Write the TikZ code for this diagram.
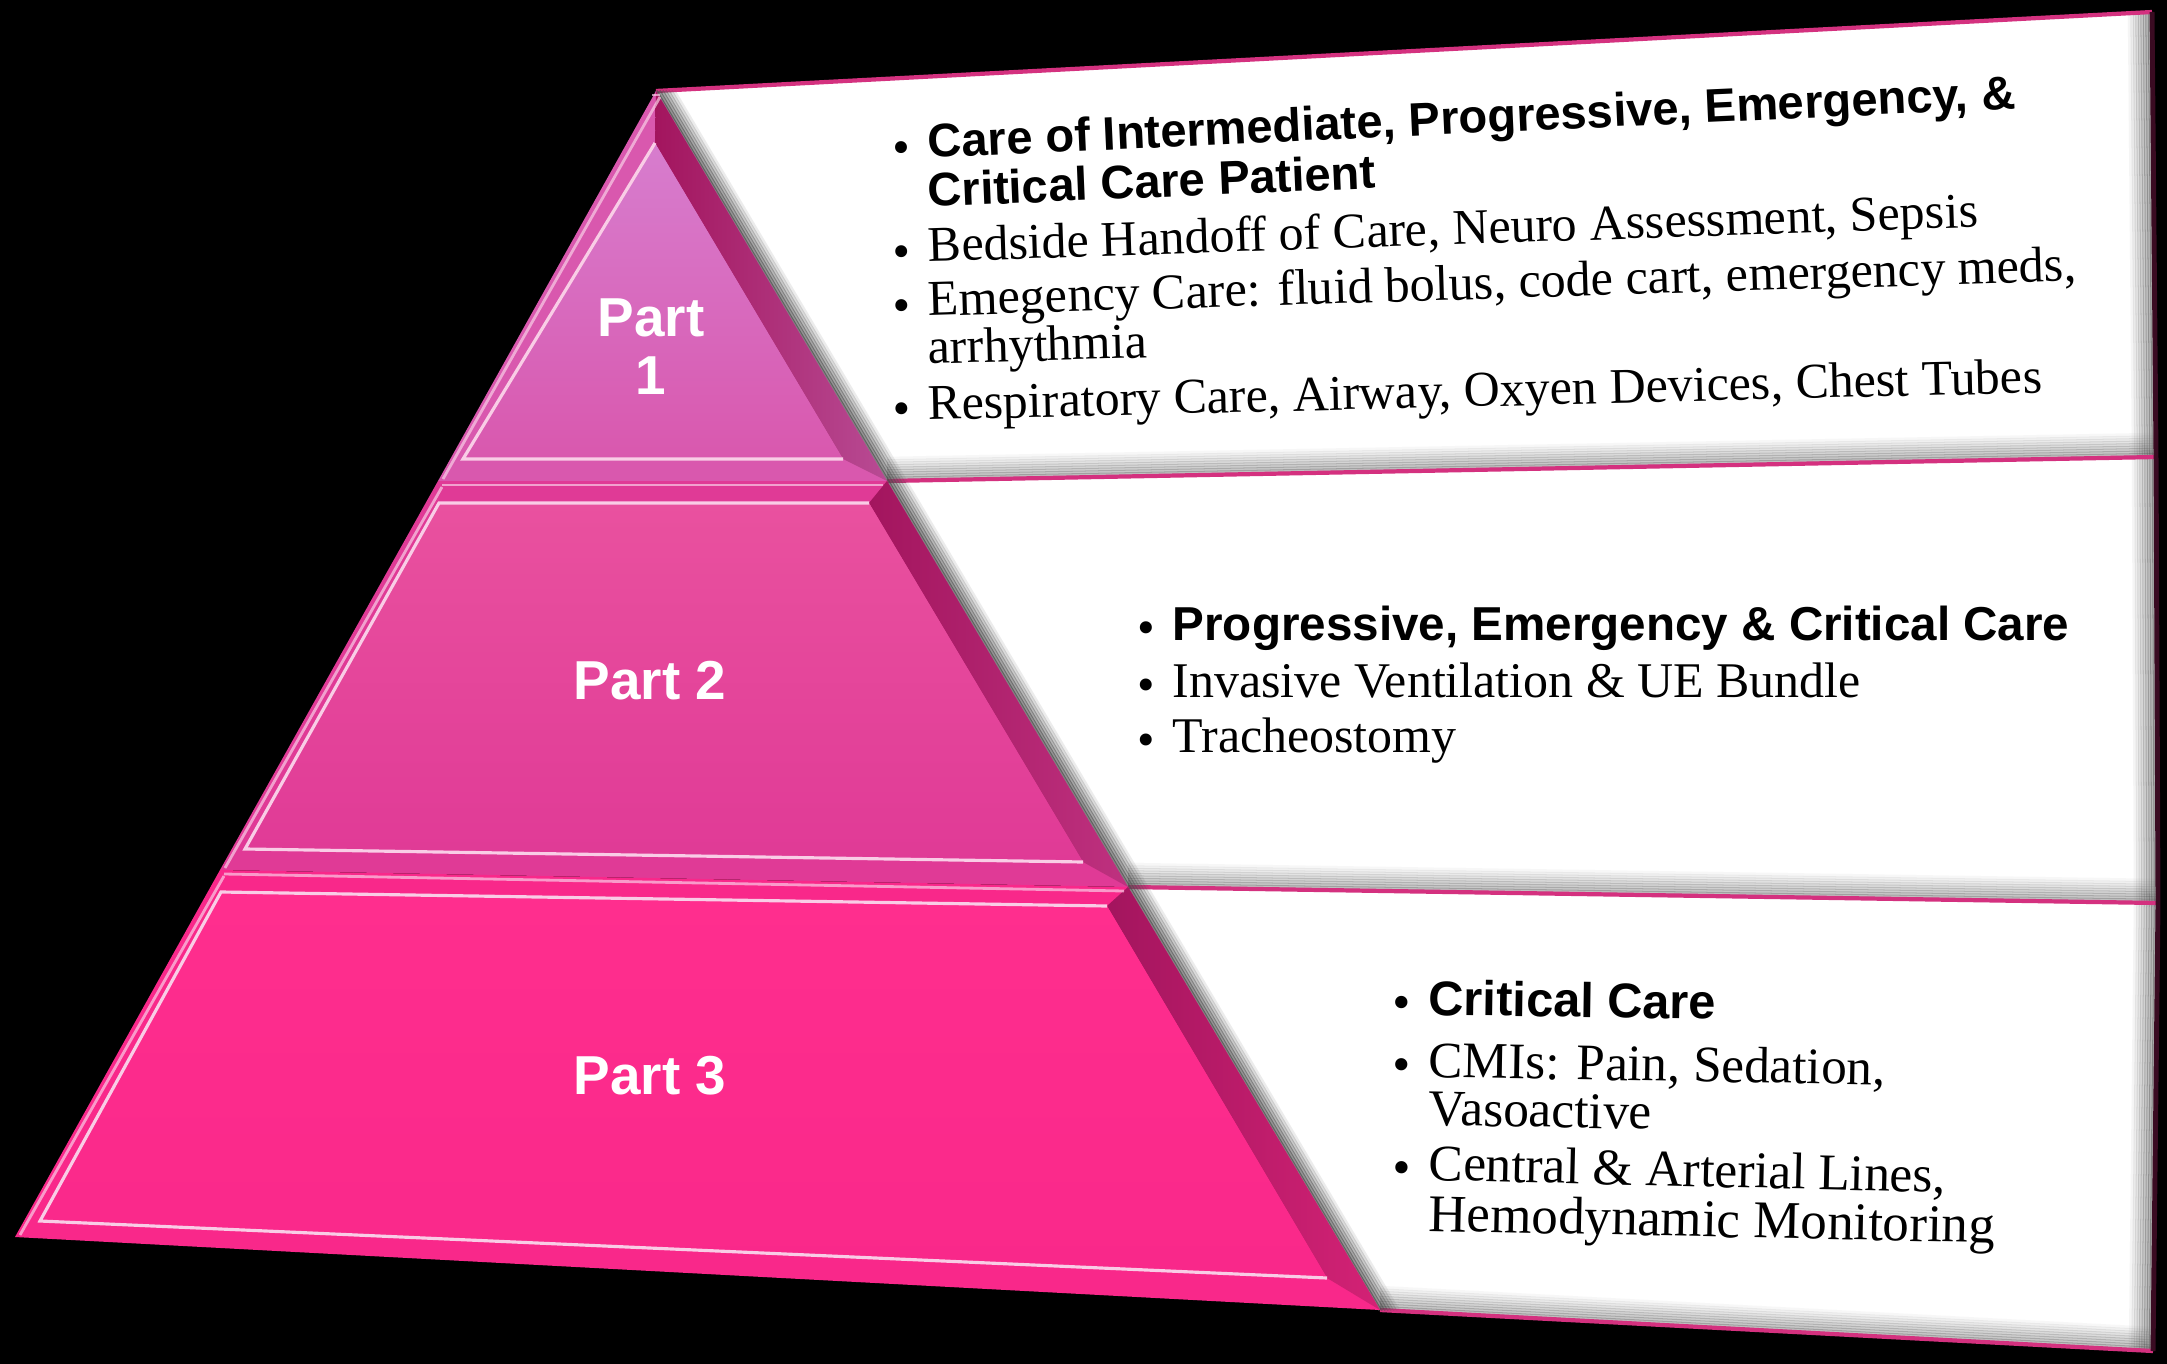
\documentclass[tikz,border=0pt]{standalone}
\usepackage{fontspec}
\setmainfont{Liberation Serif}
\setsansfont{Liberation Sans}
\usepackage{tikz}
\usetikzlibrary{calc}
\definecolor{partone}{HTML}{D77DCE}
\definecolor{partoneD}{HTML}{D958AE}
\definecolor{parttwo}{HTML}{E9519F}
\definecolor{parttwoD}{HTML}{E03A96}
\definecolor{partthree}{HTML}{FF2E8E}
\definecolor{partthreeD}{HTML}{F9288A}
\definecolor{rimD}{HTML}{A3155E}
\definecolor{shine}{HTML}{F9CDE6}
\definecolor{seam}{HTML}{D4317F}
\definecolor{frameD}{HTML}{3A0B22}
\newcommand{\pyrhead}{\sffamily\bfseries\fontsize{13.4}{16}\selectfont}
\newcommand{\pyrbody}{\rmfamily\fontsize{14.2}{17}\selectfont}
\newcommand{\pyrpart}{\sffamily\bfseries\fontsize{15.6}{16.5}\selectfont}
\newcommand{\dotitem}{\llap{{\rmfamily\mdseries\fontsize{14.2}{17}\selectfont\raisebox{-1.4pt}{•}}\hspace{5pt}}}

\begin{document}
\begin{tikzpicture}[x=0.01cm, y=-0.01cm,
  head/.style={font=\pyrhead, anchor=base west, inner sep=0pt},
  body/.style={font=\pyrbody, anchor=base west, inner sep=0pt},
  partlab/.style={font=\pyrpart, text=white, align=center, inner sep=0pt}]
\useasboundingbox (0,0) rectangle (2167,1364);
\fill[black] (0,0) rectangle (2167,1364);
% pyramid outline, tier by tier (tier 1 has its top corners at the apex)
\coordinate (apex) at (656,91);
\coordinate (t1-tl) at (656,91);   \coordinate (t1-tr) at (656,91);
\coordinate (t1-br) at (887,481);  \coordinate (t1-bl) at (438,481);
\coordinate (i1-tl) at (655,143);  \coordinate (i1-tr) at (655,143);
\coordinate (i1-br) at (843,459);  \coordinate (i1-bl) at (463,459);
\coordinate (t2-tl) at (438,481);  \coordinate (t2-tr) at (887,481);
\coordinate (t2-br) at (1128,887); \coordinate (t2-bl) at (220,870);
\coordinate (i2-tl) at (439,503);  \coordinate (i2-tr) at (869,503);
\coordinate (i2-br) at (1083,862); \coordinate (i2-bl) at (245,849);
\coordinate (t3-tl) at (220,870);  \coordinate (t3-tr) at (1128,887);
\coordinate (t3-br) at (1380,1310); \coordinate (t3-bl) at (15,1237);
\coordinate (i3-tl) at (221,892);  \coordinate (i3-tr) at (1107,906);
\coordinate (i3-br) at (1327,1278); \coordinate (i3-bl) at (40,1221);
% white panels on the right
\coordinate (p1-tl) at (656,91);   \coordinate (p1-tr) at (2152,12);
\coordinate (p1-br) at (2156,457); \coordinate (p1-bl) at (887,481);
\coordinate (p2-tl) at (887,481);  \coordinate (p2-tr) at (2156,457);
\coordinate (p2-br) at (2158,903); \coordinate (p2-bl) at (1128,887);
\coordinate (p3-tl) at (1128,887); \coordinate (p3-tr) at (2158,903);
\coordinate (p3-br) at (2153,1351); \coordinate (p3-bl) at (1380,1310);

\foreach \p in {p1,p2,p3} {
  \begin{scope}
    \clip (\p-tl) -- (\p-tr) -- (\p-br) -- (\p-bl) -- cycle;
    \fill[white] (\p-tl) -- (\p-tr) -- (\p-br) -- (\p-bl) -- cycle;
    \foreach \k in {0,...,9} {
      \pgfmathsetmacro{\op}{0.5*(1-\k/10)}
      \draw[black!55, opacity=\op, line width=1pt] ($(\p-bl)+(0,-\k*2.5)$) -- ($(\p-br)+(0,-\k*2.5)$);
      \draw[black!70, opacity=\op, line width=1pt] ($(\p-tr)+(-\k*2.5,0)$) -- ($(\p-br)+(-\k*2.5,0)$);
    }
  \end{scope}
}
\draw[seam, line width=1.2pt] (p1-tl) -- (p1-tr) (p1-bl) -- (p1-br) (p2-bl) -- (p2-br) (p3-bl) -- (p3-br);
\draw[frameD, line width=1.4pt] (p1-tr) -- (p1-br) (p2-tr) -- (p2-br) (p3-tr) -- (p3-br);
% shadow of the pyramid on the panels
\foreach \k in {0,...,6} {
  \pgfmathsetmacro{\op}{0.7*(1-\k/7)}
  \draw[black!70, opacity=\op, line width=1pt] ($(apex)+(\k*3,0)$) -- ($(t3-br)+(\k*3,0)$);
}

\foreach \t/\ctop/\cbot in {1/partone/partoneD, 2/parttwo/parttwoD, 3/partthree/partthreeD} {
  \fill[\cbot] (t\t-tl) -- (t\t-tr) -- (t\t-br) -- (t\t-bl) -- cycle;
  \shade[left color=rimD, right color=\cbot!85!black] (t\t-tr) -- (t\t-br) -- (i\t-br) -- (i\t-tr) -- cycle;
  \shade[top color=\ctop, bottom color=\cbot] (i\t-tl) -- (i\t-tr) -- (i\t-br) -- (i\t-bl) -- cycle;
  \draw[shine, line width=0.9pt] (i\t-tr) -- (i\t-tl) -- (i\t-bl) -- (i\t-br);
  \draw[shine, line width=0.8pt, opacity=0.7] ($(t\t-tl)+(4,6)$) -- ($(t\t-bl)+(5,-2)$);
  \draw[shine, line width=0.8pt, opacity=0.7] ($(t\t-tl)+(4,4)$) -- ($(t\t-tr)+(-4,4)$);
}
\node[partlab] (part1) at (651,347) {Part\\1};
\node[partlab, anchor=base] (part2) at (650,699) {Part 2};
\node[partlab, anchor=base] (part3) at (650,1094) {Part 3};

\node[head, rotate=2.6] (care) at (928,158) {\dotitem Care of Intermediate, Progressive, Emergency, \&};
\node[head, rotate=2.4] (carecont) at (928,207) {Critical Care Patient};
\node[body, rotate=1.9] (handoff) at (928,262) {\dotitem Bedside Handoff of Care, Neuro Assessment, Sepsis};
\node[body, rotate=1.75, scale=1.005] (emerg) at (928,316) {\dotitem Emegency Care: fluid bolus, code cart, emergency meds,};
\node[body, rotate=1.6] (emergcont) at (928,364) {arrhythmia};
\node[body, rotate=1.4] (resp) at (928,420) {\dotitem Respiratory Care, Airway, Oxyen Devices, Chest Tubes};

\node[head, scale=1.01] (prog) at (1172,640) {\dotitem Progressive, Emergency \& Critical Care};
\node[body] (vent) at (1172,697) {\dotitem Invasive Ventilation \& UE Bundle};
\node[body] (trach) at (1172,752) {\dotitem Tracheostomy};

\node[head, rotate=-0.8, scale=1.035] (crit) at (1428,1015) {\dotitem Critical Care};
\node[body, rotate=-1, scale=1.025] (cmi) at (1428,1077) {\dotitem CMIs: Pain, Sedation,};
\node[body, rotate=-1.1, scale=1.03] (cmicont) at (1428,1125) {Vasoactive};
\node[body, rotate=-1.4, scale=1.03] (lines) at (1428,1180) {\dotitem Central \& Arterial Lines,};
\node[body, rotate=-1.2, scale=1.06] (linescont) at (1428,1231) {Hemodynamic Monitoring};
\end{tikzpicture}
\end{document}
